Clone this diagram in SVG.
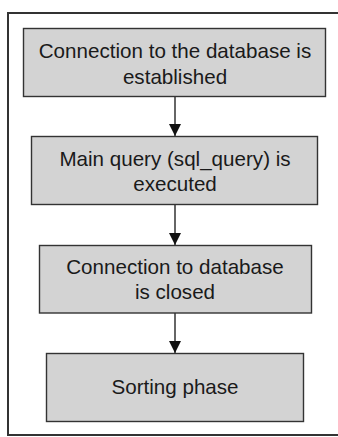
<svg xmlns="http://www.w3.org/2000/svg" width="338" height="437" viewBox="0 0 338 437">
  <style>
    .box { fill: #d3d3d3; stroke: #333333; stroke-width: 1.4; }
    .lbl { font-family: "Liberation Sans", Arial, sans-serif; font-size: 20.6px; fill: #1a1a1a; text-anchor: middle; }
    .conn { stroke: #333333; stroke-width: 1.5; fill: none; marker-end: url(#arrow); }
    .frame { fill: #ffffff; stroke: #333333; stroke-width: 2; }
  </style>
  <defs>
    <marker id="arrow" viewBox="0 0 12 12" refX="12" refY="6" markerWidth="12" markerHeight="12" markerUnits="userSpaceOnUse" orient="auto">
      <path d="M0,0 L12,6 L0,12 z" fill="#111111"/>
    </marker>
  </defs>
  <rect x="0" y="0" width="338" height="437" fill="#ffffff"/>
  <rect class="frame" x="8" y="13" width="340" height="422"/>

  <g id="connectors">
    <line class="conn" x1="175" y1="97" x2="175" y2="136"/>
    <line class="conn" x1="175" y1="205" x2="175" y2="245"/>
    <line class="conn" x1="175" y1="313" x2="175" y2="353"/>
  </g>

  <g id="node1">
    <rect class="box" x="23.5" y="28.5" width="302" height="68"/>
    <text class="lbl" x="175" y="57.5">Connection to the database is</text>
    <text class="lbl" x="175" y="83.5">established</text>
  </g>
  <g id="node2">
    <rect class="box" x="31.5" y="136.5" width="286" height="68"/>
    <text class="lbl" x="175" y="166">Main query (sql_query) is</text>
    <text class="lbl" x="175" y="191">executed</text>
  </g>
  <g id="node3">
    <rect class="box" x="39.5" y="245.5" width="272" height="67.5"/>
    <text class="lbl" x="175" y="273.5">Connection to database</text>
    <text class="lbl" x="175" y="299">is closed</text>
  </g>
  <g id="node4">
    <rect class="box" x="46.5" y="353.5" width="257" height="68"/>
    <text class="lbl" x="175" y="393.5">Sorting phase</text>
  </g>
</svg>
